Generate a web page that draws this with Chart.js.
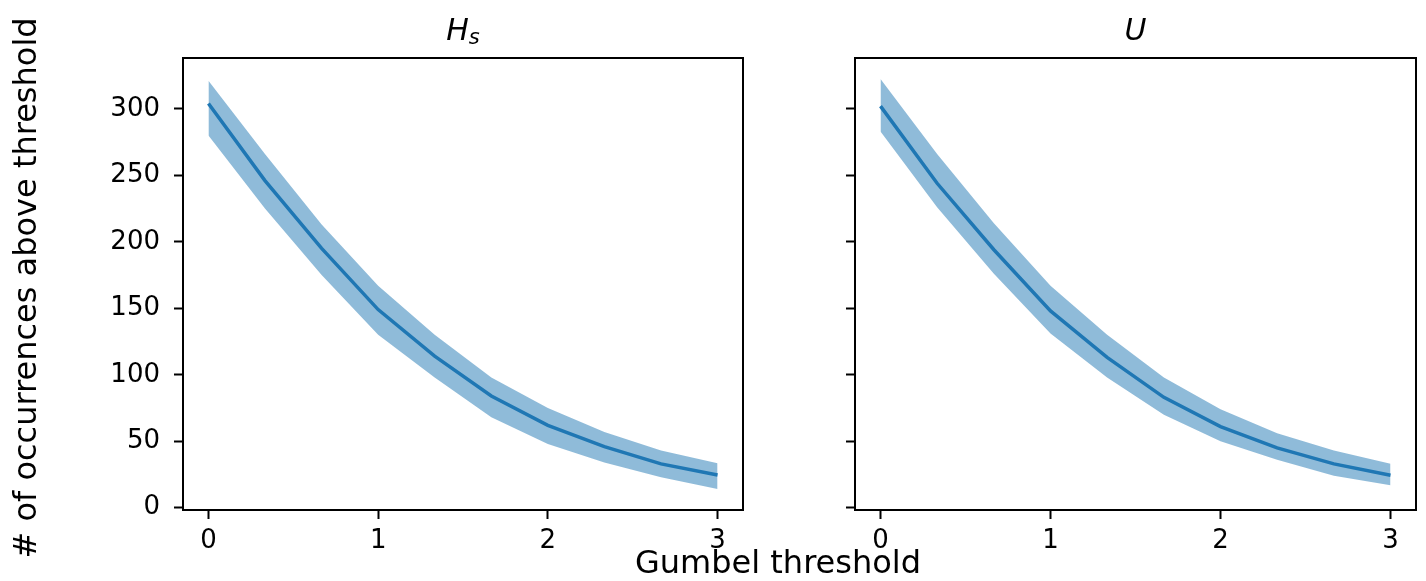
<!DOCTYPE html>
<html>
<head>
<meta charset="utf-8">
<script src="https://cdn.jsdelivr.net/npm/chart.js@4"></script>
<style>
  html, body { margin: 0; padding: 0; background: #fff; }
  .panel { position: absolute; left: 0; top: 0; width: 1426px; height: 581px; }
</style>
</head>
<body>
<div class="panel"><canvas id="hsChart"></canvas></div>
<div class="panel"><canvas id="uChart"></canvas></div>
<script>
// Gumbel threshold values (x)
const thresholds = [0, 0.333, 0.667, 1, 1.333, 1.667, 2, 2.333, 2.667, 3];

// H_s panel
const hsMean = [304, 246, 195, 149, 114, 84, 62, 46, 33, 24.6];
const hsUpper = [321, 266, 213, 167, 130, 98, 75, 57, 43, 33.4];
const hsLower = [280, 225, 175, 130, 98, 68, 48, 34, 23, 14];

// U panel
const uMean = [302, 244, 194, 148, 113, 83, 61, 45, 33, 24.5];
const uUpper = [322.5, 266, 214, 167, 130, 98, 74, 56, 43, 33];
const uLower = [283, 226, 176, 131, 98, 70, 50, 36, 24, 17];

const xTickValues = [0, 1, 2, 3];
const yTickValues = [0, 50, 100, 150, 200, 250, 300];

const FONT = "'DejaVu Sans', sans-serif";
const LINE_COLOR = "#1f77b4";
const BAND_COLOR = "rgba(31,119,180,0.5)";

function toPoints(values) {
  return values.map((v, i) => ({ x: thresholds[i], y: v }));
}

function panelPlugin(title, drawFigureLabels) {
  return {
    id: "panelDecor_" + title.main,
    afterDraw(chart) {
      const ctx = chart.ctx;
      const a = chart.chartArea;
      ctx.save();

      // axes box
      ctx.strokeStyle = "#000";
      ctx.lineWidth = 2;
      ctx.strokeRect(a.left, a.top, a.right - a.left, a.bottom - a.top);

      // title (mathtext-like italic)
      ctx.fillStyle = "#000";
      ctx.textBaseline = "alphabetic";
      ctx.font = "oblique 30px " + FONT;
      const mainW = ctx.measureText(title.main).width;
      let subW = 0;
      if (title.sub) {
        ctx.font = "oblique 21px " + FONT;
        subW = ctx.measureText(title.sub).width;
      }
      const cx = (a.left + a.right) / 2;
      const startX = cx - (mainW + subW) / 2;
      ctx.font = "oblique 30px " + FONT;
      ctx.textAlign = "left";
      ctx.fillText(title.main, startX, 40);
      if (title.sub) {
        ctx.font = "oblique 21px " + FONT;
        ctx.fillText(title.sub, startX + mainW, 44);
      }

      if (drawFigureLabels) {
        ctx.font = "32px " + FONT;
        ctx.textAlign = "center";
        ctx.fillText("Gumbel threshold", 778, 573);

        ctx.translate(36, 288);
        ctx.rotate(-Math.PI / 2);
        ctx.fillText("# of occurrences above threshold", 0, 0);
      }
      ctx.restore();
    }
  };
}

function buildPanel(canvasId, mean, upper, lower, title, areaLeft, areaRight, showYLabels, drawFigureLabels) {
  const ctx = document.getElementById(canvasId);
  return new Chart(ctx, {
    type: "line",
    data: {
      datasets: [
        {
          data: toPoints(lower),
          borderWidth: 0,
          pointRadius: 0,
          fill: false,
          tension: 0
        },
        {
          data: toPoints(upper),
          borderWidth: 0,
          pointRadius: 0,
          backgroundColor: BAND_COLOR,
          fill: "-1",
          tension: 0
        },
        {
          data: toPoints(mean),
          borderColor: LINE_COLOR,
          borderWidth: 3.5,
          pointRadius: 0,
          fill: false,
          tension: 0
        }
      ]
    },
    options: {
      responsive: true,
      maintainAspectRatio: false,
      devicePixelRatio: 1,
      animation: false,
      events: [],
      layout: {
        padding: { left: 0, top: 58, right: 1426 - areaRight, bottom: 0 }
      },
      plugins: {
        legend: { display: false },
        tooltip: { enabled: false },
        title: { display: false }
      },
      scales: {
        x: {
          type: "linear",
          min: -0.15,
          max: 3.15,
          afterBuildTicks: (scale) => {
            scale.ticks = xTickValues.map(v => ({ value: v }));
          },
          afterFit: (scale) => { scale.height = 581 - 510; },
          ticks: {
            color: "#000",
            font: { family: FONT, size: 26 },
            padding: 7,
            maxRotation: 0,
            autoSkip: false
          },
          grid: {
            drawOnChartArea: false,
            drawTicks: true,
            tickLength: 9,
            tickWidth: 2,
            tickColor: "#000"
          },
          border: { display: false }
        },
        y: {
          type: "linear",
          min: -1.7,
          max: 338.2,
          afterBuildTicks: (scale) => {
            scale.ticks = yTickValues.map(v => ({ value: v }));
          },
          afterFit: (scale) => { scale.width = areaLeft; },
          ticks: {
            color: "#000",
            font: { family: FONT, size: 26 },
            padding: 14,
            autoSkip: false,
            callback: (value) => showYLabels ? String(value) : ""
          },
          grid: {
            drawOnChartArea: false,
            drawTicks: true,
            tickLength: 9,
            tickWidth: 2,
            tickColor: "#000"
          },
          border: { display: false }
        }
      }
    },
    plugins: [panelPlugin(title, drawFigureLabels)]
  });
}

buildPanel("hsChart", hsMean, hsUpper, hsLower, { main: "H", sub: "s" }, 183, 743, true, true);
buildPanel("uChart", uMean, uUpper, uLower, { main: "U", sub: "" }, 855, 1416, false, false);
</script>
</body>
</html>
